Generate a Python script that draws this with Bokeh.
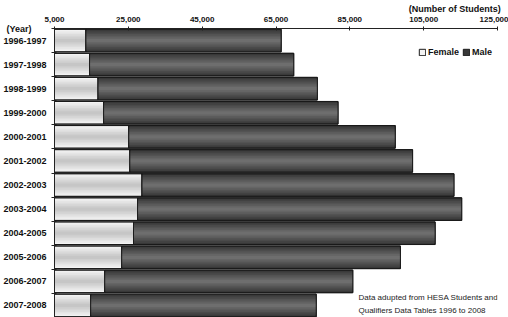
from bokeh.plotting import figure
from bokeh.models import (ColumnDataSource, Range1d, FixedTicker, NumeralTickFormatter,
                          Legend, LegendItem, Label)
from bokeh.embed import file_html
from bokeh.resources import INLINE

# ---- data ----
years = ["1996-1997", "1997-1998", "1998-1999", "1999-2000", "2000-2001", "2001-2002",
         "2002-2003", "2003-2004", "2004-2005", "2005-2006", "2006-2007", "2007-2008"]
female = [13500, 14500, 16800, 18300, 25100, 25400, 28700, 27500, 26400, 23200, 18600, 14800]
male = [52900, 55300, 59400, 63500, 72200, 76600, 84500, 87800, 81700, 75500, 67200, 61100]
x_ticks = [5000, 25000, 45000, 65000, 85000, 105000, 125000]
y_title = "(Year)"
x_title = "(Number of Students)"

n = len(years)
idx = list(range(n))
src = ColumnDataSource(dict(
    y=idx,
    f_left=[0] * n,
    f_right=female,
    m_left=female,
    m_right=[f + m for f, m in zip(female, male)],
))

FONT = "Arial"
NBSP = "\u00a0"

p = figure(width=508, height=317, output_backend="svg", toolbar_location=None,
           x_range=Range1d(5000, 125000), y_range=Range1d(n - 0.5, -0.5),
           x_axis_location="above", min_border_left=53, min_border_right=11,
           min_border_top=27, min_border_bottom=0)
p.outline_line_color = None
p.xgrid.grid_line_color = None
p.ygrid.grid_line_color = None
p.background_fill_color = "white"

H = 0.94
N = 7


def mix(c1, c2, t):
    a = [int(c1[i:i + 2], 16) for i in (1, 3, 5)]
    b = [int(c2[i:i + 2], 16) for i in (1, 3, 5)]
    return "#%02x%02x%02x" % tuple(round(a[j] + (b[j] - a[j]) * t) for j in range(3))


def gradient_bar(left, right, edge, center):
    first = None
    for k in range(N):
        t = k / (N - 1)
        r = p.hbar(y="y", left=left, right=right, height=H * (1 - k / N), source=src,
                   fill_color=mix(edge, center, t),
                   line_color="#1a1a1a" if k == 0 else None, line_width=1)
        if first is None:
            first = r
    p.hbar(y="y", left=left, right=right, height=H, source=src,
           fill_color=None, line_color="#1a1a1a", line_width=1)
    return first


r_f = gradient_bar("f_left", "f_right", "#f4f4f4", "#c6c6c6")
r_m = gradient_bar("m_left", "m_right", "#383838", "#6e6e6e")

# x axis (top); the axis caption sits at the top right
xa = p.xaxis[0]
xa.ticker = FixedTicker(ticks=x_ticks, minor_ticks=[])
xa.formatter = NumeralTickFormatter(format="0,0")
xa.major_label_text_font = FONT
xa.major_label_text_font_style = "bold"
xa.major_label_text_font_size = "8px"
xa.major_label_text_color = "#111111"
xa.major_tick_in = 2
xa.major_tick_out = 2
xa.minor_tick_line_color = None
xa.axis_line_color = "#222222"
xa.major_tick_line_color = "#222222"
xa.major_label_standoff = 5
xa.axis_label = NBSP * 143 + x_title
xa.axis_label_standoff = 0
xa.axis_label_text_font = FONT
xa.axis_label_text_font_style = "bold"
xa.axis_label_text_font_size = "9px"
xa.axis_label_text_color = "#111111"

# y axis (left); the tick at the top edge carries the "(Year)" caption
ya = p.yaxis[0]
ya.ticker = FixedTicker(ticks=[-0.5] + idx, minor_ticks=[i - 0.5 for i in range(n + 1)])
overrides = {i: years[i] for i in idx}
overrides[-0.5] = y_title + NBSP * 6
ya.major_label_overrides = overrides
ya.major_label_text_font = FONT
ya.major_label_text_font_style = "bold"
ya.major_label_text_font_size = "9px"
ya.major_label_text_color = "#111111"
ya.major_tick_line_color = None
ya.major_tick_in = 0
ya.major_tick_out = 0
ya.minor_tick_line_color = "#222222"
ya.minor_tick_in = 2
ya.minor_tick_out = 3
ya.axis_line_color = "#222222"
ya.major_label_standoff = 5

# legend
legend = Legend(items=[LegendItem(label="Female", renderers=[r_f]),
                       LegendItem(label="Male", renderers=[r_m])],
                orientation="horizontal", location=(364, 260),
                label_text_font=FONT, label_text_font_style="bold",
                label_text_font_size="9px", label_text_color="#111111",
                glyph_width=8, glyph_height=8, spacing=3, label_standoff=2,
                padding=0, margin=0, border_line_color=None,
                background_fill_alpha=0, label_height=10)
p.add_layout(legend)

# source note
p.add_layout(Label(x=304, y=20, x_units="screen", y_units="screen",
                   text="Data adupted from HESA Students and",
                   text_font=FONT, text_font_size="8px", text_baseline="middle",
                   text_color="#222222"))
p.add_layout(Label(x=304, y=7, x_units="screen", y_units="screen",
                   text="Qualifiers Data Tables 1996 to 2008",
                   text_font=FONT, text_font_size="8px", text_baseline="middle",
                   text_color="#222222"))

open("out.html", "w").write(file_html(p, INLINE))
